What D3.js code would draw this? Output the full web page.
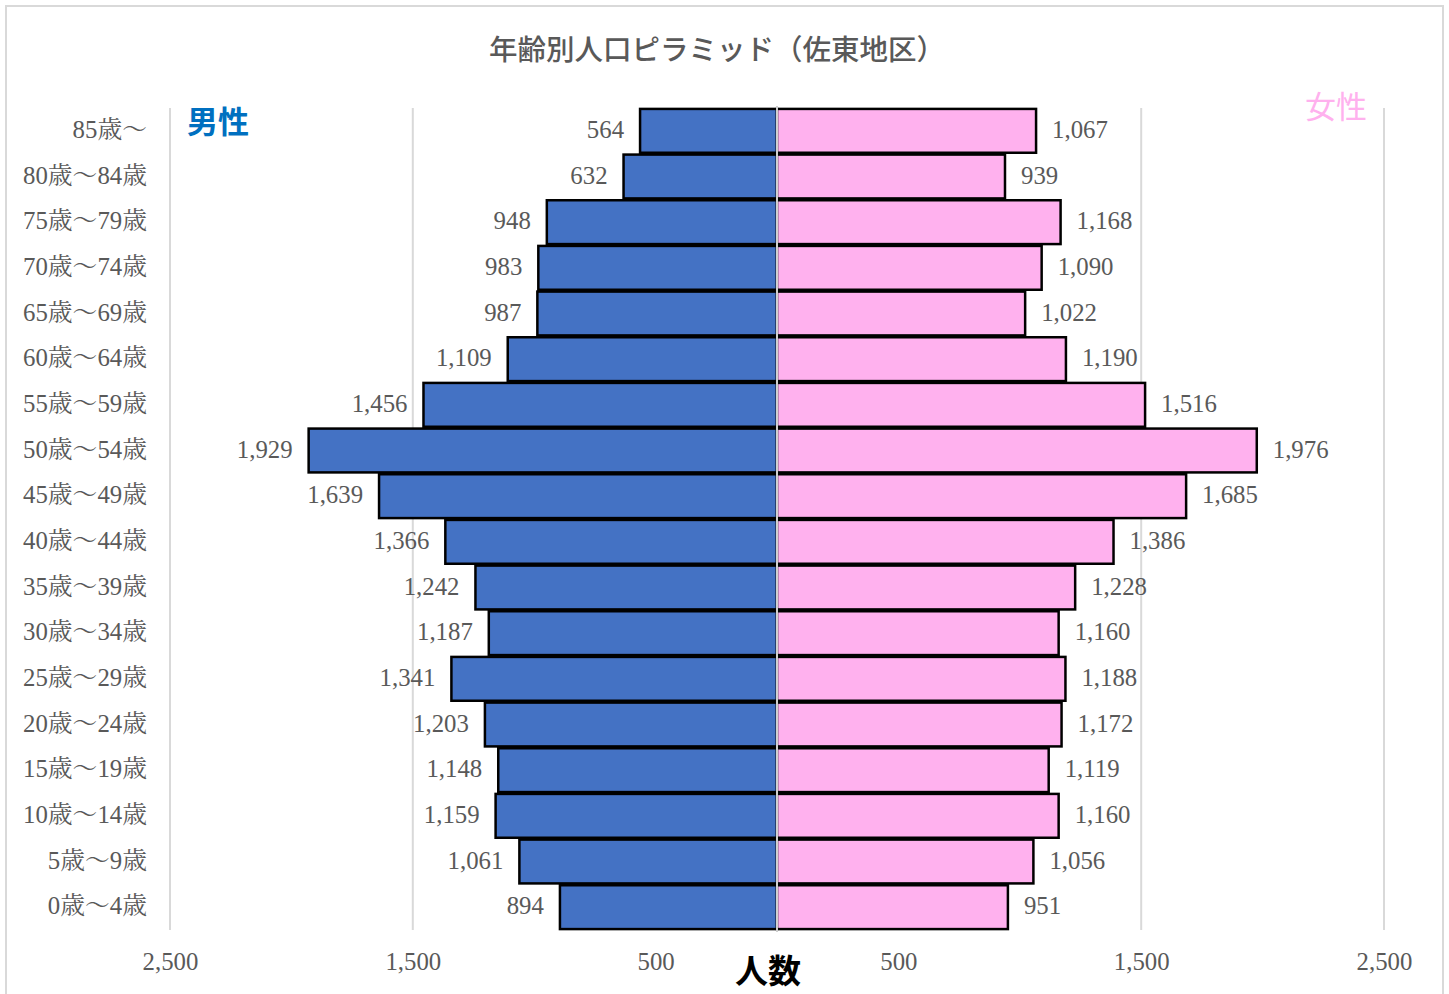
<!DOCTYPE html>
<html><head><meta charset="utf-8">
<script src="https://cdn.jsdelivr.net/npm/d3@7"></script>
<style>body{margin:0;background:#fff}</style>
</head><body>
<svg id="c" width="1449" height="994"></svg>
<script>
const categories = ["85歳～","80歳～84歳","75歳～79歳","70歳～74歳","65歳～69歳","60歳～64歳","55歳～59歳","50歳～54歳","45歳～49歳","40歳～44歳","35歳～39歳","30歳～34歳","25歳～29歳","20歳～24歳","15歳～19歳","10歳～14歳","5歳～9歳","0歳～4歳"];
const male = [564,632,948,983,987,1109,1456,1929,1639,1366,1242,1187,1341,1203,1148,1159,1061,894];
const female = [1067,939,1168,1090,1022,1190,1516,1976,1685,1386,1228,1160,1188,1172,1119,1160,1056,951];
const tickValues = [-2500,-1500,-500,500,1500,2500];
const title = "年齢別人口ピラミッド（佐東地区）";

const svg = d3.select("#c");
const serif = "'Liberation Serif','Noto Serif CJK JP','Noto Sans CJK JP',serif";
const sans = "'Noto Sans CJK JP',sans-serif";
const grey = "#595959";
const fs = 24.8;

svg.append("rect").attr("x",6).attr("y",6).attr("width",1437).attr("height",992)
  .attr("fill","#fff").attr("stroke","#d9d9d9").attr("stroke-width",2);

const x = d3.scaleLinear().domain([-2500,2500]).range([170,1384]);
const y = d3.scaleBand().domain(categories).range([108,930]).paddingInner(0.04).paddingOuter(0.02);

// gridlines
svg.append("g").selectAll("line").data(tickValues).join("line")
  .attr("x1",d=>x(d)).attr("x2",d=>x(d)).attr("y1",108).attr("y2",930)
  .attr("stroke","#d9d9d9").attr("stroke-width",2);

// bars
svg.append("g").selectAll("rect").data(categories).join("rect")
  .attr("x",(d,i)=>x(-male[i])).attr("y",d=>y(d))
  .attr("width",(d,i)=>x(0)-x(-male[i])).attr("height",y.bandwidth())
  .attr("fill","#4472C4").attr("stroke","#000").attr("stroke-width",2.5);
svg.append("g").selectAll("rect").data(categories).join("rect")
  .attr("x",x(0)).attr("y",d=>y(d))
  .attr("width",(d,i)=>x(female[i])-x(0)).attr("height",y.bandwidth())
  .attr("fill","#FFB1EE").attr("stroke","#000").attr("stroke-width",2.5);

// center axis line
svg.append("line").attr("x1",x(0)).attr("x2",x(0)).attr("y1",106).attr("y2",932)
  .attr("stroke","#d0d0d0").attr("stroke-width",2);

const fmt = d3.format(",");
const cy = d => y(d)+y.bandwidth()/2+7;
// value labels
svg.append("g").selectAll("text").data(categories).join("text")
  .attr("x",(d,i)=>x(-male[i])-16).attr("y",cy)
  .attr("text-anchor","end").attr("font-family",serif).attr("font-size",fs).attr("fill",grey)
  .text((d,i)=>fmt(male[i]));
svg.append("g").selectAll("text").data(categories).join("text")
  .attr("x",(d,i)=>x(female[i])+16).attr("y",cy)
  .attr("text-anchor","start").attr("font-family",serif).attr("font-size",fs).attr("fill",grey)
  .text((d,i)=>fmt(female[i]));

// category labels
svg.append("g").selectAll("text").data(categories).join("text")
  .attr("x",147).attr("y",cy)
  .attr("text-anchor","end").attr("font-family",serif).attr("font-size",fs).attr("fill",grey)
  .text(d=>d);

// x axis tick labels
const ax = d3.axisBottom(x).tickValues(tickValues).tickFormat(d=>fmt(Math.abs(d))).tickSize(0).tickPadding(0);
const gx = svg.append("g").attr("transform","translate(0,970)").call(ax);
gx.select(".domain").remove();
gx.selectAll("text").attr("font-family",serif).attr("font-size",fs).attr("fill",grey).attr("dy",0);

// title
svg.append("text").attr("x",717).attr("y",60).attr("text-anchor","middle")
  .attr("font-family",sans).attr("font-size",28.5).attr("font-weight",500).attr("fill",grey).text(title);
// legends
svg.append("text").attr("x",187).attr("y",133).attr("font-family",sans).attr("font-size",31)
  .attr("font-weight",700).attr("fill","#0070C0").text("男性");
svg.append("text").attr("x",1305).attr("y",118).attr("font-family",sans).attr("font-size",31)
  .attr("font-weight",400).attr("fill","#FFB1EE").text("女性");
svg.append("text").attr("x",768).attr("y",983).attr("text-anchor","middle").attr("font-family",sans)
  .attr("font-size",33).attr("font-weight",700).attr("fill","#000").text("人数");
</script>
</body></html>
